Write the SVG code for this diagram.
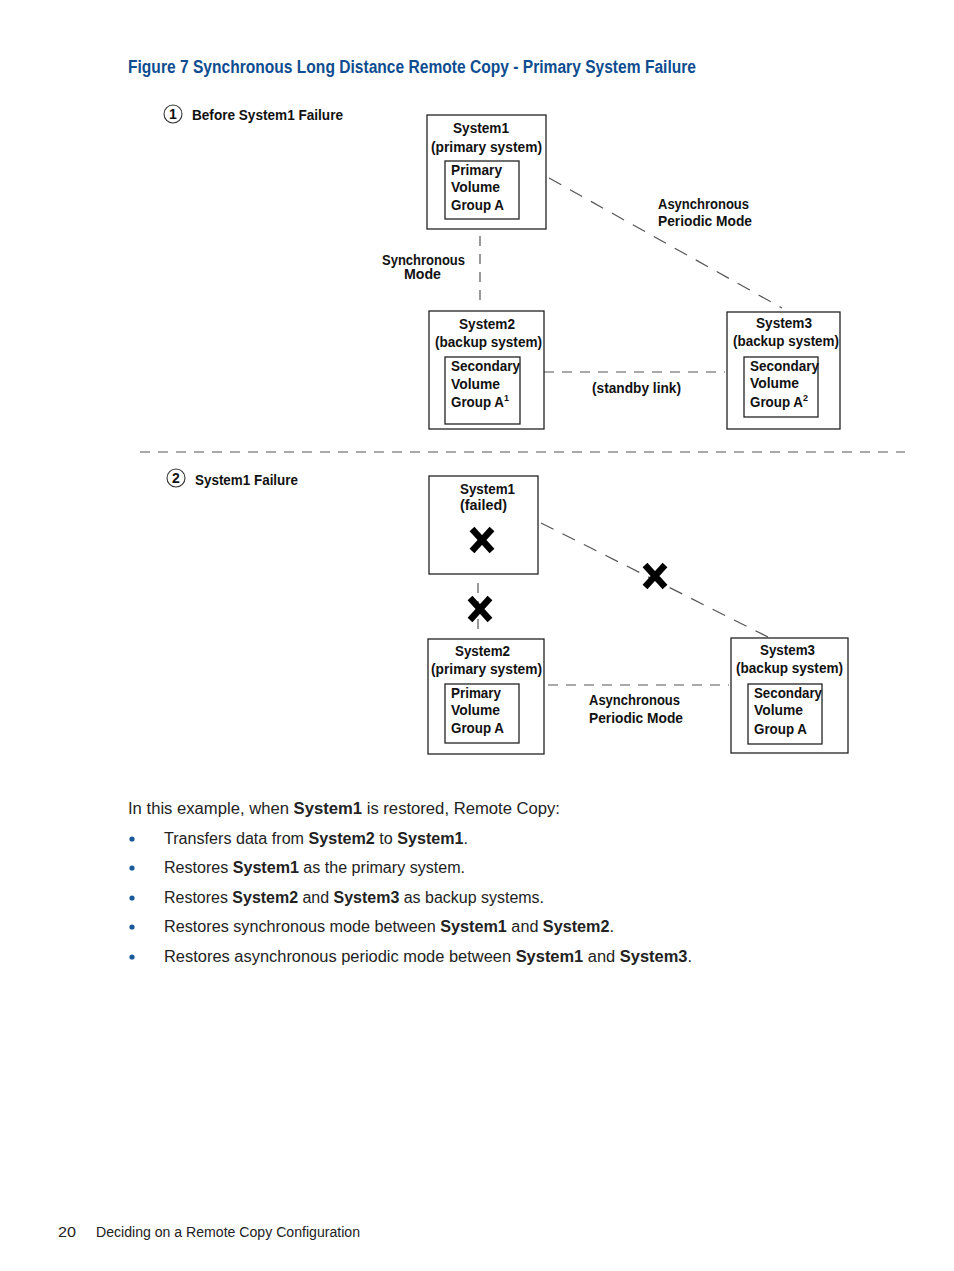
<svg xmlns="http://www.w3.org/2000/svg" width="954" height="1271" viewBox="0 0 954 1271">
<style>
.t{font-family:"Liberation Sans",Arial,sans-serif;font-weight:bold;font-size:14px;fill:#111;}
.box{fill:none;stroke:#222;stroke-width:1.3;}
.dash{fill:none;stroke:#555;stroke-width:1.2;stroke-dasharray:10 8;}
.diag{stroke-dasharray:14 10;}
.x{stroke:#000;stroke-width:6.5;stroke-linecap:butt;fill:none;}
.title{font-family:"Liberation Sans",Arial,sans-serif;font-size:18px;font-weight:bold;fill:#0e4d8f;}
.body{font-family:"Liberation Sans",Arial,sans-serif;font-size:16px;fill:#222;}
.b{font-weight:bold;}
.sup{font-size:9px;}
</style>
<rect width="954" height="1271" fill="#fff"/>
<text class="title" x="128" y="73" textLength="568" lengthAdjust="spacingAndGlyphs">Figure 7 Synchronous Long Distance Remote Copy - Primary System Failure</text>

<g id="connectors">
  <line class="dash" x1="480" y1="236" x2="480" y2="306"/>
  <line class="dash diag" x1="549" y1="178" x2="782" y2="308"/>
  <line class="dash" x1="544" y1="372" x2="725" y2="372"/>
  <line class="dash" x1="140" y1="452" x2="905" y2="452"/>
  <line class="dash" x1="478" y1="583" x2="478" y2="634"/>
  <line class="dash diag" x1="541" y1="523" x2="768" y2="637"/>
  <line class="dash" x1="548" y1="685" x2="729" y2="685"/>
</g>

<g id="label1">
  <circle cx="173" cy="114" r="9" fill="none" stroke="#333" stroke-width="1.1"/>
  <text class="t" x="173" y="119" text-anchor="middle">1</text>
  <text class="t" x="192" y="120" textLength="151" lengthAdjust="spacingAndGlyphs">Before System1 Failure</text>
</g>

<g id="s1a">
  <rect class="box" x="427" y="115" width="119" height="114"/>
  <text class="t" x="453" y="133" textLength="56" lengthAdjust="spacingAndGlyphs">System1</text>
  <text class="t" x="431" y="152" textLength="111" lengthAdjust="spacingAndGlyphs">(primary system)</text>
  <rect class="box" x="445" y="161" width="74" height="58"/>
  <text class="t" x="451" y="175" textLength="51" lengthAdjust="spacingAndGlyphs">Primary</text>
  <text class="t" x="451" y="192" textLength="49" lengthAdjust="spacingAndGlyphs">Volume</text>
  <text class="t" x="451" y="210" textLength="53" lengthAdjust="spacingAndGlyphs">Group A</text>
</g>

<g id="lbl-sync">
  <text class="t" x="382" y="265" textLength="83" lengthAdjust="spacingAndGlyphs">Synchronous</text>
  <text class="t" x="404" y="279" textLength="37" lengthAdjust="spacingAndGlyphs">Mode</text>
</g>
<g id="lbl-async1">
  <text class="t" x="658" y="209" textLength="91" lengthAdjust="spacingAndGlyphs">Asynchronous</text>
  <text class="t" x="658" y="226" textLength="94" lengthAdjust="spacingAndGlyphs">Periodic Mode</text>
</g>

<g id="s2a">
  <rect class="box" x="429" y="311" width="115" height="118"/>
  <text class="t" x="459" y="329" textLength="56" lengthAdjust="spacingAndGlyphs">System2</text>
  <text class="t" x="435" y="347" textLength="107" lengthAdjust="spacingAndGlyphs">(backup system)</text>
  <rect class="box" x="445" y="357" width="75" height="67"/>
  <text class="t" x="451" y="371" textLength="69" lengthAdjust="spacingAndGlyphs">Secondary</text>
  <text class="t" x="451" y="389" textLength="49" lengthAdjust="spacingAndGlyphs">Volume</text>
  <text class="t" x="451" y="407"><tspan textLength="53" lengthAdjust="spacingAndGlyphs">Group A</tspan><tspan class="sup" dy="-6">1</tspan></text>
</g>

<g id="lbl-standby">
  <text class="t" x="592" y="393" textLength="89" lengthAdjust="spacingAndGlyphs">(standby link)</text>
</g>

<g id="s3a">
  <rect class="box" x="727" y="312" width="113" height="117"/>
  <text class="t" x="756" y="328" textLength="56" lengthAdjust="spacingAndGlyphs">System3</text>
  <text class="t" x="733" y="346" textLength="106" lengthAdjust="spacingAndGlyphs">(backup system)</text>
  <rect class="box" x="744" y="357" width="74" height="60"/>
  <text class="t" x="750" y="371" textLength="69" lengthAdjust="spacingAndGlyphs">Secondary</text>
  <text class="t" x="750" y="388" textLength="49" lengthAdjust="spacingAndGlyphs">Volume</text>
  <text class="t" x="750" y="407"><tspan textLength="53" lengthAdjust="spacingAndGlyphs">Group A</tspan><tspan class="sup" dy="-6">2</tspan></text>
</g>

<g id="label2">
  <circle cx="176" cy="478" r="9" fill="none" stroke="#333" stroke-width="1.1"/>
  <text class="t" x="176" y="483" text-anchor="middle">2</text>
  <text class="t" x="195" y="485" textLength="103" lengthAdjust="spacingAndGlyphs">System1 Failure</text>
</g>

<g id="s1b">
  <rect class="box" x="429" y="476" width="109" height="98"/>
  <text class="t" x="460" y="494" textLength="55" lengthAdjust="spacingAndGlyphs">System1</text>
  <text class="t" x="460" y="510" textLength="47" lengthAdjust="spacingAndGlyphs">(failed)</text>
  <path class="x" d="M472 529 L492 551 M492 529 L472 551"/>
</g>

<g id="xmarks">
  <path class="x" d="M470 598 L490 620 M490 598 L470 620"/>
  <path class="x" d="M645 565 L665 587 M665 565 L645 587"/>
</g>

<g id="s2b">
  <rect class="box" x="428" y="639" width="116" height="115"/>
  <text class="t" x="455" y="656" textLength="55" lengthAdjust="spacingAndGlyphs">System2</text>
  <text class="t" x="431" y="674" textLength="111" lengthAdjust="spacingAndGlyphs">(primary system)</text>
  <rect class="box" x="445" y="684" width="74" height="59"/>
  <text class="t" x="451" y="698" textLength="50" lengthAdjust="spacingAndGlyphs">Primary</text>
  <text class="t" x="451" y="715" textLength="49" lengthAdjust="spacingAndGlyphs">Volume</text>
  <text class="t" x="451" y="733" textLength="53" lengthAdjust="spacingAndGlyphs">Group A</text>
</g>

<g id="lbl-async2">
  <text class="t" x="589" y="705" textLength="91" lengthAdjust="spacingAndGlyphs">Asynchronous</text>
  <text class="t" x="589" y="723" textLength="94" lengthAdjust="spacingAndGlyphs">Periodic Mode</text>
</g>

<g id="s3b">
  <rect class="box" x="731" y="638" width="117" height="115"/>
  <text class="t" x="760" y="655" textLength="55" lengthAdjust="spacingAndGlyphs">System3</text>
  <text class="t" x="736" y="673" textLength="107" lengthAdjust="spacingAndGlyphs">(backup system)</text>
  <rect class="box" x="748" y="684" width="74" height="60"/>
  <text class="t" x="754" y="698" textLength="68" lengthAdjust="spacingAndGlyphs">Secondary</text>
  <text class="t" x="754" y="715" textLength="49" lengthAdjust="spacingAndGlyphs">Volume</text>
  <text class="t" x="754" y="734" textLength="53" lengthAdjust="spacingAndGlyphs">Group A</text>
</g>

<g id="bodytext">
  <text class="body" x="128" y="814" textLength="432" lengthAdjust="spacingAndGlyphs">In this example, when <tspan class="b">System1</tspan> is restored, Remote Copy:</text>
  <circle cx="132" cy="839" r="2.6" fill="#1a5a9a"/>
  <text class="body" x="164" y="844" textLength="304" lengthAdjust="spacingAndGlyphs">Transfers data from <tspan class="b">System2</tspan> to <tspan class="b">System1</tspan>.</text>
  <circle cx="132" cy="868" r="2.6" fill="#1a5a9a"/>
  <text class="body" x="164" y="873" textLength="301" lengthAdjust="spacingAndGlyphs">Restores <tspan class="b">System1</tspan> as the primary system.</text>
  <circle cx="132" cy="898" r="2.6" fill="#1a5a9a"/>
  <text class="body" x="164" y="903" textLength="380" lengthAdjust="spacingAndGlyphs">Restores <tspan class="b">System2</tspan> and <tspan class="b">System3</tspan> as backup systems.</text>
  <circle cx="132" cy="927" r="2.6" fill="#1a5a9a"/>
  <text class="body" x="164" y="932" textLength="450" lengthAdjust="spacingAndGlyphs">Restores synchronous mode between <tspan class="b">System1</tspan> and <tspan class="b">System2</tspan>.</text>
  <circle cx="132" cy="957" r="2.6" fill="#1a5a9a"/>
  <text class="body" x="164" y="962" textLength="528" lengthAdjust="spacingAndGlyphs">Restores asynchronous periodic mode between <tspan class="b">System1</tspan> and <tspan class="b">System3</tspan>.</text>
</g>

<g id="footer">
  <text class="body" style="font-size:14px" x="58" y="1237" textLength="18" lengthAdjust="spacingAndGlyphs">20</text>
  <text class="body" style="font-size:14px" x="96" y="1237" textLength="264" lengthAdjust="spacingAndGlyphs">Deciding on a Remote Copy Configuration</text>
</g>
</svg>
